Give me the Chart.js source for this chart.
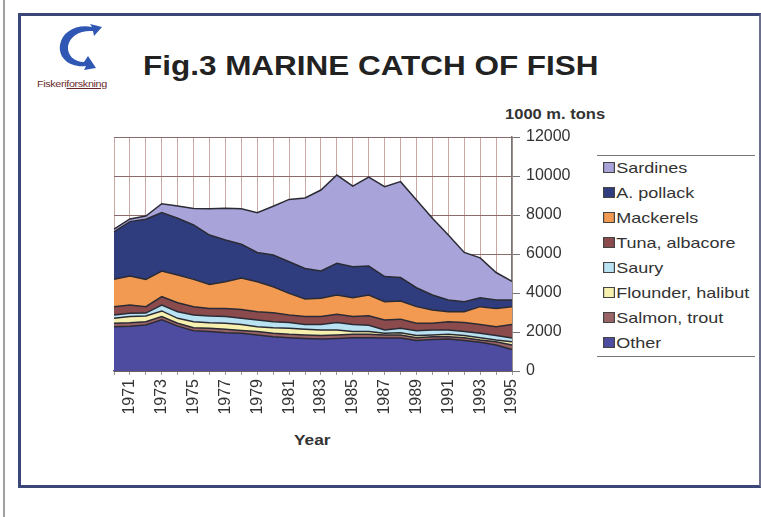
<!DOCTYPE html>
<html>
<head>
<meta charset="utf-8">
<script src="https://cdn.jsdelivr.net/npm/chart.js@4.4.0/dist/chart.umd.min.js"></script>
<style>
  body { margin: 0; background: #fff; font-family: Arial, "Liberation Sans", sans-serif; }
  #wrap { position: relative; width: 761px; height: 517px; overflow: hidden; background: #fff; }
  #edge { position: absolute; left: 3px; top: 0; width: 2px; height: 517px; background: #a0a0a0; }
  #frame { position: absolute; left: 18px; top: 13px; width: 738px; height: 469px;
           border-top: 3px solid #3b4778; border-left: 3px solid #3b4778; border-bottom: 3px solid #3b4778;
           border-right: 2px solid #6b6f8c; }
  .wide { transform-origin: 0 0; white-space: nowrap; }
  #title { position: absolute; left: 143px; top: 51px; font-size: 27px; font-weight: bold; color: #222; transform: scaleX(1.165); }
  #unit { position: absolute; left: 505px; top: 106px; font-size: 14px; font-weight: bold; color: #333; transform: scaleX(1.18); }
  #year { position: absolute; left: 294px; top: 431px; font-size: 15px; font-weight: bold; color: #333; transform: scaleX(1.15); }
  #logotext { position: absolute; left: 37px; top: 79px; font-size: 9px; color: #6a2a2a; letter-spacing: -0.3px; transform: scaleX(1.2); }
  #legend { position: absolute; left: 597px; top: 155px; width: 158px; height: 200px;
            border-top: 1px solid #777; border-bottom: 1px solid #777; }
  #legend div { position: absolute; left: 6px; font-size: 15px; color: #333; white-space: nowrap; transform-origin: 0 0; transform: scaleX(1.2); }
  #legend span { display: inline-block; width: 8px; height: 9px; border: 1px solid #444; margin-right: 1px; vertical-align: 0px; }
  canvas { position: absolute; left: 0; top: 0; }
</style>
</head>
<body>
<div id="wrap">
  <div id="edge"></div>
  <div id="frame"></div>
  <svg style="position:absolute;left:50px;top:18px" width="56" height="58" viewBox="0 0 56 58">
    <path d="M40 6 L52 9 L44 18 L43 13 C30 12 20 18 18 28 C17 37 24 44 34 44 L38 38 L46 50 L34 52 L36 48 C20 50 8 40 10 27 C12 14 26 6 42 9 Z" fill="#2f57b3"/>
  </svg>
  <div id="logotext" class="wide">Fiskeri<u>forskning</u></div>
  <div id="title" class="wide">Fig.3 MARINE CATCH OF FISH</div>
  <div id="unit" class="wide">1000 m. tons</div>
  <div id="year" class="wide">Year</div>
  <div id="legend"></div>
  <canvas id="chart" width="761" height="517"></canvas>
</div>
<script>
const years = ["1970", "1971", "1972", "1973", "1974", "1975", "1976", "1977", "1978", "1979",
  "1980", "1981", "1982", "1983", "1984", "1985", "1986", "1987", "1988", "1989",
  "1990", "1991", "1992", "1993", "1994", "1995"];

// 1000 metric tons, stacked bottom to top
const other = [2270, 2300, 2360, 2620, 2300, 2070, 2020, 1960, 1930, 1850, 1760, 1710, 1670, 1640, 1670, 1710, 1710, 1690, 1690, 1560, 1620, 1640, 1560, 1470, 1330, 1100];
const salmon = [180, 170, 170, 170, 150, 150, 170, 180, 150, 170, 170, 170, 180, 180, 180, 170, 170, 160, 160, 150, 140, 120, 150, 120, 170, 230];
const flounder = [250, 320, 290, 290, 250, 310, 280, 310, 300, 250, 290, 310, 290, 280, 250, 140, 140, 80, 110, 110, 90, 120, 110, 120, 90, 170];
const saury = [170, 170, 150, 300, 340, 340, 350, 340, 320, 350, 310, 300, 250, 290, 390, 370, 330, 170, 230, 250, 250, 220, 200, 220, 230, 190];
const tuna = [430, 420, 330, 430, 460, 430, 390, 420, 450, 420, 460, 380, 400, 400, 420, 400, 480, 520, 470, 380, 350, 430, 470, 460, 450, 700];
const mackerels = [1400, 1490, 1400, 1320, 1420, 1400, 1230, 1370, 1620, 1540, 1330, 1110, 900, 940, 990, 970, 1070, 930, 930, 850, 680, 510, 550, 910, 940, 910];
const pollack = [2440, 2790, 3080, 2990, 2910, 2790, 2530, 2140, 1730, 1500, 1630, 1620, 1570, 1400, 1620, 1590, 1480, 1290, 1200, 970, 770, 600, 510, 460, 430, 340];
const sardines = [130, 140, 170, 460, 630, 840, 1350, 1620, 1820, 2040, 2500, 3200, 3610, 4150, 4530, 4130, 4560, 4610, 4920, 4500, 3930, 3330, 2530, 2040, 1410, 960];

const yTicks = [0, 2000, 4000, 6000, 8000, 10000, 12000];

const series = [
  { name: "Other", data: other, color: "#4d4ca0" },
  { name: "Salmon, trout", data: salmon, color: "#9a6466" },
  { name: "Flounder, halibut", data: flounder, color: "#f7f1b0" },
  { name: "Saury", data: saury, color: "#b9e3f2" },
  { name: "Tuna, albacore", data: tuna, color: "#8b4b4c" },
  { name: "Mackerels", data: mackerels, color: "#f39a52" },
  { name: "A. pollack", data: pollack, color: "#2f3d7e" },
  { name: "Sardines", data: sardines, color: "#a8a4da" }
];

const datasets = series.map((s, i) => ({
  label: s.name,
  data: s.data,
  backgroundColor: s.color,
  borderColor: "#2b2b35",
  borderWidth: 1.5,
  pointRadius: 0,
  tension: 0,
  fill: i === 0 ? "origin" : "-1"
}));

new Chart(document.getElementById("chart"), {
  type: "line",
  data: { labels: years, datasets: datasets },
  options: {
    responsive: false,
    animation: false,
    layout: { padding: { left: 114, top: 137, right: 179, bottom: 86 } },
    plugins: { legend: { display: false }, tooltip: { enabled: false } },
    scales: {
      x: {
        grid: { color: "#c9a8a2", lineWidth: 1, tickLength: 4, tickColor: "#999" },
        border: { color: "#555", width: 1.5 },
        ticks: {
          autoSkip: false, minRotation: 90, maxRotation: 90, padding: 4,
          color: "#333", font: { family: "Arial", size: 16 },
          callback: (v, i) => (Number(years[i]) % 2 === 1 ? years[i] : "")
        },
        afterFit: s => { s.height = 60; }
      },
      y: {
        position: "right",
        stacked: true,
        min: 0, max: 12000,
        grid: { color: "#8a6a6a", lineWidth: 1, tickLength: 8, tickColor: "#777" },
        border: { color: "#777", width: 1.5 },
        afterBuildTicks: s => { s.ticks = yTicks.map(v => ({ value: v })); },
        ticks: {
          padding: 6, color: "#333", font: { family: "Arial", size: 16 },
          callback: v => String(v)
        },
        afterFit: s => { s.width = 70; }
      }
    }
  }
});

const legend = document.getElementById("legend");
series.slice().reverse().forEach((s, i) => {
  let d = document.createElement("div");
  d.style.top = (3 + i * 25) + "px";
  d.innerHTML = `<span style="background:${s.color}"></span>${s.name}`;
  legend.appendChild(d);
});
</script>
</body>
</html>
